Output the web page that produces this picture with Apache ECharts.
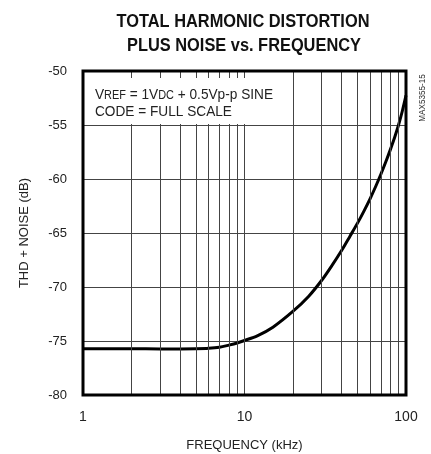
<!DOCTYPE html>
<html><head><meta charset="utf-8">
<script src="https://cdn.jsdelivr.net/npm/echarts@6/dist/echarts.min.js"></script>
<style>html,body{margin:0;padding:0;background:#fff}#c{width:431px;height:454px}</style>
</head><body><div id="c"></div>
<script>
const FONT = '"Liberation Sans",Arial,Helvetica,sans-serif';
const titleLines = ['TOTAL HARMONIC DISTORTION', 'PLUS NOISE vs. FREQUENCY'];
const freqKHz = [1, 2, 3, 4, 5, 6, 7, 8, 9, 10, 12, 15, 20, 25, 30, 35, 40, 45, 50, 55, 60, 65, 70, 75, 80, 85, 90, 95, 100];
const thdNoiseDB = [-75.72, -75.72, -75.73, -75.73, -75.72, -75.68, -75.58, -75.38, -75.18, -74.95, -74.52, -73.72, -72.24, -70.85, -69.4, -67.95, -66.6, -65.29, -64.11, -62.95, -61.81, -60.67, -59.54, -58.41, -57.28, -56.16, -54.98, -53.68, -52.26];
const gridFreqs = [2, 3, 4, 5, 6, 7, 8, 9, 10, 20, 30, 40, 50, 60, 70, 80, 90];
const xTickLabels = [1, 10, 100];
const yMin = -80, yMax = -50, yStep = 5;
const xName = 'FREQUENCY (kHz)';
const yName = 'THD + NOISE (dB)';
const noteLine2 = 'CODE = FULL SCALE';
const figId = 'MAX5355-15';

const chart = echarts.init(document.getElementById('c'), null, {renderer: 'canvas'});
chart.setOption({
  animation: false,
  grid: {left: 83, top: 71, width: 323, height: 324, show: false, containLabel: false, outerBoundsMode: 'none'},
  xAxis: {
    type: 'log', logBase: 10, min: 1, max: 100,
    axisLine: {show: false}, axisTick: {show: false}, splitLine: {show: false},
    axisLabel: {fontFamily: FONT, fontSize: 14, color: '#222', margin: 15,
      formatter: v => xTickLabels.includes(Math.round(v)) ? String(Math.round(v)) : ''},
    name: xName, nameLocation: 'middle', nameGap: 44,
    nameTextStyle: {fontFamily: FONT, fontSize: 13, color: '#222'}
  },
  yAxis: {
    type: 'value', min: yMin, max: yMax, interval: yStep,
    axisLine: {show: false}, axisTick: {show: false},
    splitLine: {show: true, lineStyle: {color: '#444', width: 1}},
    axisLabel: {fontFamily: FONT, fontSize: 13, color: '#222', margin: 16},
    name: yName, nameLocation: 'middle', nameGap: 52, nameRotate: 90,
    nameTextStyle: {fontFamily: FONT, fontSize: 13, color: '#222'}
  },
  series: [
    {
      type: 'line', z: 1, silent: true, symbol: 'none',
      data: freqKHz.map((f, i) => [f, thdNoiseDB[i]]),
      lineStyle: {opacity: 0},
      markLine: {
        silent: true, symbol: 'none', label: {show: false},
        lineStyle: {color: '#444', width: 1, type: 'solid'},
        data: gridFreqs.map(f => ({xAxis: f}))
      }
    },
    {
      type: 'line', z: 3, symbol: 'none', smooth: 0.3,
      data: freqKHz.map((f, i) => [f, thdNoiseDB[i]]),
      lineStyle: {color: '#000', width: 3}
    }
  ]
});

const pTL = chart.convertToPixel({gridIndex: 0}, [1, yMax]);
const pBR = chart.convertToPixel({gridIndex: 0}, [100, yMin]);
const pBox = chart.convertToPixel({gridIndex: 0}, [10, -55]);

chart.setOption({
  graphic: [
    {type: 'rect', z: 10, silent: true,
      shape: {x: pTL[0] + 2, y: pTL[1] + 7, width: pBox[0] + 3 - (pTL[0] + 2), height: pBox[1] - 1 - (pTL[1] + 7)},
      style: {fill: '#fff'}},
    {type: 'rect', z: 20, silent: true,
      shape: {x: pTL[0], y: pTL[1], width: pBR[0] - pTL[0], height: pBR[1] - pTL[1]},
      style: {fill: null, stroke: '#000', lineWidth: 3}},
    {type: 'text', z: 21, x: pTL[0] + 12, y: pTL[1] + 21, scaleX: 0.91,
      style: {text: '{n|V}{s|REF}{n| = 1V}{s|DC}{n| + 0.5Vp-p SINE}', verticalAlign: 'middle', align: 'left',
        rich: {
          n: {fontFamily: FONT, fontSize: 15, fill: '#222', lineHeight: 20, verticalAlign: 'bottom'},
          s: {fontFamily: FONT, fontSize: 12, fill: '#222', lineHeight: 20, verticalAlign: 'bottom', padding: [7, 0, 0, 0]}
        }}},
    {type: 'text', z: 21, x: pTL[0] + 12, y: pTL[1] + 41, scaleX: 0.91,
      style: {text: noteLine2, fontFamily: FONT, fontSize: 15, fill: '#222', verticalAlign: 'middle', align: 'left'}},
    {type: 'text', z: 21, x: 243, y: 22, scaleX: 0.91,
      style: {text: titleLines[0], fontFamily: FONT, fontSize: 18, fontWeight: 'bold', fill: '#111', align: 'center', verticalAlign: 'middle'}},
    {type: 'text', z: 21, x: 244, y: 46, scaleX: 0.91,
      style: {text: titleLines[1], fontFamily: FONT, fontSize: 18, fontWeight: 'bold', fill: '#111', align: 'center', verticalAlign: 'middle'}},
    {type: 'text', z: 21, x: 423, y: 98, rotation: Math.PI / 2, scaleX: 0.9,
      style: {text: figId, fontFamily: FONT, fontSize: 9, fill: '#333', align: 'center', verticalAlign: 'middle'}}
  ]
});
</script></body></html>
